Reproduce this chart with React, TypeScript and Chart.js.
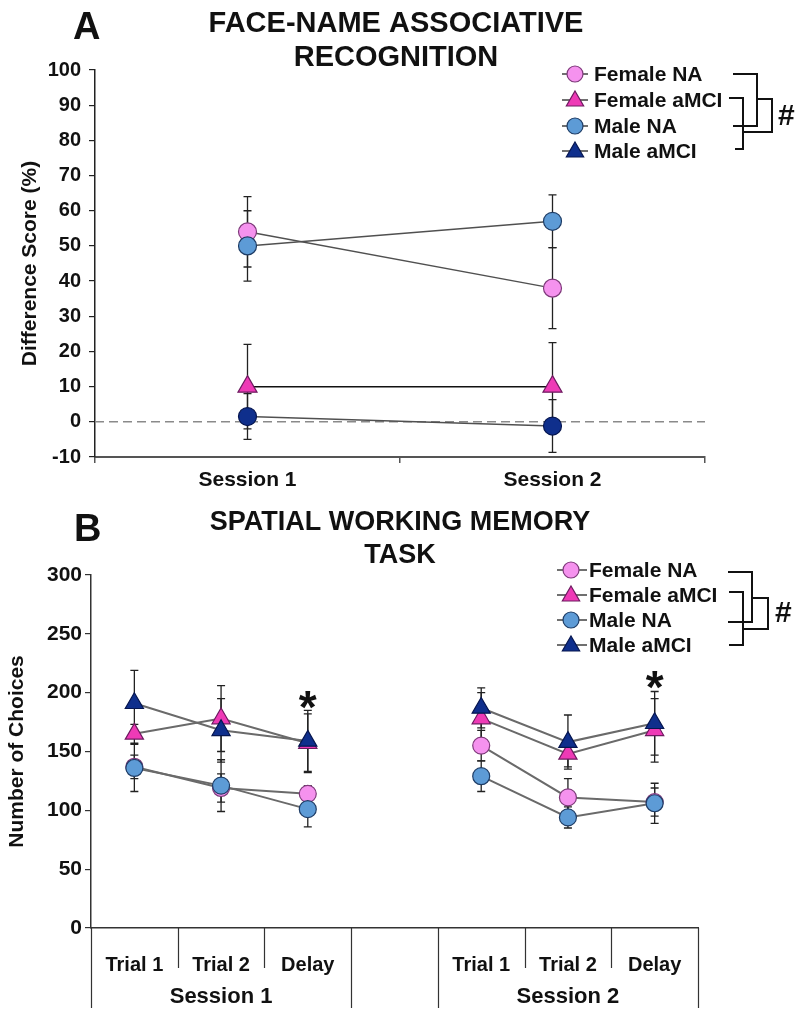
import React, { useEffect, useRef } from 'react';
import { Chart, registerables } from 'chart.js';

Chart.register(...registerables);

const FONT = '"Liberation Sans", Arial, Helvetica, sans-serif';

// ---------- Panel A data ----------
const seriesNames = ['Female NA', 'Female aMCI', 'Male NA', 'Male aMCI'];
const sessionsA = ['Session 1', 'Session 2'];
const yMinA = -10;
const yMaxA = 100;
const yStepA = 10;
const femaleNA_A = [54, 38];
const femaleNA_A_err = [10, 11.5];
const femaleMCI_A = [10, 10];
const femaleMCI_A_err = [12, 12.5];
const maleNA_A = [50, 57];
const maleNA_A_err = [10, 7.5];
const maleMCI_A = [1.5, -1.2];
const maleMCI_A_err = [6.5, 7.5];

// ---------- Panel B data ----------
const trialsB = ['Trial 1', 'Trial 2', 'Delay', '', 'Trial 1', 'Trial 2', 'Delay'];
const sessionsB = ['Session 1', 'Session 2'];
const sessionRangesB = [[0, 2], [4, 6]];
const yMinB = 0;
const yMaxB = 300;
const yStepB = 50;
const femaleNA_B = [137, 119, 114, null, 155, 111, 107];
const femaleNA_B_err = [10, 12, 7, null, 13, 16, 12];
const femaleMCI_B = [165, 178, 157, null, 178, 148, 168];
const femaleMCI_B_err = [8, 28, 25, null, 22, 11, 27];
const maleNA_B = [136, 121, 101, null, 129, 94, 106];
const maleNA_B_err = [20, 22, 15, null, 13, 9, 17];
const maleMCI_B = [191, 168, 159, null, 187, 158, 174];
const maleMCI_B_err = [28, 27, 26, null, 17, 23, 27];
const starsB = [null, null, 194, null, null, null, 211];

// ---------- styles ----------
const C = {
  fNA: { fill: '#F592EE', border: '#7E3A7A' },
  fMCI: { fill: '#EE3AB6', border: '#6E1A60' },
  mNA: { fill: '#5D9BD6', border: '#1F3D66' },
  mMCI: { fill: '#0F2F8C', border: '#061650' },
};

function drawMarker(ctx: CanvasRenderingContext2D, style: string, x: number, y: number, r: number, fill: string, stroke: string) {
  ctx.beginPath();
  if (style === 'circle') {
    ctx.arc(x, y, r, 0, Math.PI * 2);
  } else {
    const a1 = (2 * Math.PI) / 3;
    const a2 = (4 * Math.PI) / 3;
    ctx.moveTo(x, y - r);
    ctx.lineTo(x + r * Math.sin(a1), y - r * Math.cos(a1));
    ctx.lineTo(x + r * Math.sin(a2), y - r * Math.cos(a2));
    ctx.closePath();
  }
  ctx.fillStyle = fill;
  ctx.fill();
  ctx.lineWidth = 1.2;
  ctx.strokeStyle = stroke;
  ctx.stroke();
}

const errorBarPlugin = {
  id: 'errbars',
  beforeDatasetsDraw(chart: any, _args: any, o: any) {
    const { ctx } = chart;
    const ys = chart.scales.y;
    ctx.save();
    ctx.strokeStyle = o.color || '#222';
    ctx.lineWidth = o.width || 1.3;
    const cap = o.cap || 4;
    chart.data.datasets.forEach((ds: any, i: number) => {
      const meta = chart.getDatasetMeta(i);
      meta.data.forEach((pt: any, j: number) => {
        const v = ds.data[j];
        const e = ds.errors ? ds.errors[j] : null;
        if (v == null || e == null) return;
        const x = pt.x;
        const y1 = ys.getPixelForValue(v + e);
        const y2 = ys.getPixelForValue(v - e);
        ctx.beginPath();
        ctx.moveTo(x, y1);
        ctx.lineTo(x, y2);
        ctx.moveTo(x - cap, y1);
        ctx.lineTo(x + cap, y1);
        ctx.moveTo(x - cap, y2);
        ctx.lineTo(x + cap, y2);
        ctx.stroke();
      });
    });
    ctx.restore();
  },
};

const zeroLinePlugin = {
  id: 'zeroLine',
  beforeDatasetsDraw(chart: any, _a: any, o: any) {
    if (!o || !o.enabled) return;
    const { ctx, chartArea } = chart;
    const y = chart.scales.y.getPixelForValue(0);
    ctx.save();
    ctx.strokeStyle = '#8a8a8a';
    ctx.lineWidth = 1.4;
    ctx.setLineDash([9, 5]);
    ctx.beginPath();
    ctx.moveTo(chartArea.left, y);
    ctx.lineTo(chartArea.right, y);
    ctx.stroke();
    ctx.restore();
  },
};

const starPlugin = {
  id: 'stars',
  afterDatasetsDraw(chart: any, _a: any, o: any) {
    if (!o || !o.values) return;
    const { ctx } = chart;
    const xs = chart.scales.x;
    const ys = chart.scales.y;
    ctx.save();
    ctx.fillStyle = '#111';
    ctx.font = `bold 46px ${FONT}`;
    ctx.textAlign = 'center';
    ctx.textBaseline = 'alphabetic';
    const m = ctx.measureText('*');
    const mid = (m.actualBoundingBoxAscent - m.actualBoundingBoxDescent) / 2;
    o.values.forEach((v: number | null, j: number) => {
      if (v == null) return;
      ctx.fillText('*', xs.getPixelForValue(j), ys.getPixelForValue(v) + mid);
    });
    ctx.restore();
  },
};

const decorPlugin = {
  id: 'decor',
  afterDraw(chart: any, _a: any, o: any) {
    const { ctx } = chart;
    ctx.save();
    ctx.fillStyle = '#111';
    ctx.textBaseline = 'alphabetic';
    ctx.textAlign = 'left';
    ctx.font = `bold ${o.letterSize}px ${FONT}`;
    ctx.fillText(o.letter, o.letterX, o.letterY);
    ctx.textAlign = 'center';
    ctx.font = `bold ${o.titleSize}px ${FONT}`;
    o.titleLines.forEach((t: string, i: number) => ctx.fillText(t, o.titleX, o.titleYs[i]));

    // legend
    ctx.textAlign = 'left';
    ctx.textBaseline = 'middle';
    ctx.font = `bold ${o.legendSize}px ${FONT}`;
    o.names.forEach((name: string, i: number) => {
      const y = o.rowYs[i];
      const st = o.markers[i];
      ctx.strokeStyle = '#333';
      ctx.lineWidth = 1.4;
      ctx.beginPath();
      ctx.moveTo(o.lineX0, y);
      ctx.lineTo(o.lineX1, y);
      ctx.stroke();
      drawMarker(ctx, st.style, o.markerX, y + (st.style === 'triangle' ? 1 : 0), st.r, st.fill, st.border);
      ctx.fillStyle = '#111';
      ctx.fillText(name, o.textX, y + 1);
    });

    // brackets
    ctx.strokeStyle = '#111';
    ctx.lineWidth = 2;
    o.brackets.forEach((b: any) => {
      ctx.beginPath();
      ctx.moveTo(b.xa, b.ya);
      ctx.lineTo(b.xv, b.ya);
      ctx.lineTo(b.xv, b.yb);
      ctx.lineTo(b.xb, b.yb);
      ctx.stroke();
    });
    ctx.fillStyle = '#111';
    ctx.textAlign = 'left';
    ctx.textBaseline = 'middle';
    ctx.font = `bold 30px ${FONT}`;
    ctx.fillText('#', o.hashX, o.hashY);
    ctx.restore();
  },
};

const groupAxisPlugin = {
  id: 'groupAxis',
  afterDraw(chart: any, _a: any, o: any) {
    if (!o || !o.enabled) return;
    const { ctx } = chart;
    const xs = chart.scales.x;
    const n = xs.getLabels().length;
    const w = (xs.right - xs.left) / n;
    const y0 = xs.top;
    ctx.save();
    ctx.strokeStyle = '#333';
    ctx.lineWidth = 1.2;
    ctx.beginPath();
    for (let i = 0; i <= n; i++) {
      const x = Math.round(xs.left + i * w) + 0.5;
      const long = o.longIdx.includes(i);
      ctx.moveTo(x, y0);
      ctx.lineTo(x, y0 + (long ? o.longLen : o.shortLen));
    }
    ctx.stroke();
    ctx.fillStyle = '#111';
    ctx.textAlign = 'center';
    ctx.textBaseline = 'alphabetic';
    ctx.font = `bold 22px ${FONT}`;
    o.groups.forEach((label: string, k: number) => {
      const [a, b] = o.ranges[k];
      const x = (xs.getPixelForValue(a) + xs.getPixelForValue(b)) / 2;
      ctx.fillText(label, x, o.labelY);
    });
    ctx.restore();
  },
};

function ds(label: string, data: any[], errors: any[], c: any, style: string, radius: number, lineColor: string, lineWidth: number, order: number) {
  return {
    label,
    data,
    errors,
    borderColor: lineColor,
    borderWidth: lineWidth,
    pointStyle: style,
    pointRadius: radius,
    pointBackgroundColor: c.fill,
    pointBorderColor: c.border,
    pointBorderWidth: 1.2,
    fill: false,
    tension: 0,
    order,
    spanGaps: false,
  };
}

export default function App() {
  const refA = useRef<HTMLCanvasElement>(null);
  const refB = useRef<HTMLCanvasElement>(null);

  useEffect(() => {
    Chart.defaults.font.family = FONT;
    Chart.defaults.color = '#111';

    const tickFont = (size: number) => ({ size, weight: 'bold' as const, family: FONT });

    const chartA = new Chart(refA.current as HTMLCanvasElement, {
      type: 'line',
      data: {
        labels: sessionsA,
        datasets: [
          ds(seriesNames[0], femaleNA_A, femaleNA_A_err, C.fNA, 'circle', 9, '#505050', 1.5, 4),
          ds(seriesNames[1], femaleMCI_A, femaleMCI_A_err, C.fMCI, 'triangle', 11, '#111111', 1.5, 3),
          ds(seriesNames[2], maleNA_A, maleNA_A_err, C.mNA, 'circle', 9, '#505050', 1.5, 2),
          ds(seriesNames[3], maleMCI_A, maleMCI_A_err, C.mMCI, 'circle', 9, '#505050', 1.5, 1),
        ] as any,
      },
      options: {
        responsive: false,
        animation: false,
        devicePixelRatio: 1,
        events: [],
        layout: { padding: { top: 70, right: 91, left: 0, bottom: 0 } },
        plugins: {
          legend: { display: false },
          tooltip: { enabled: false },
          title: { display: false },
          errbars: { cap: 4, color: '#222', width: 1.3 },
          zeroLine: { enabled: true },
          decor: {
            letter: 'A', letterSize: 38, letterX: 73, letterY: 39,
            titleLines: ['FACE-NAME ASSOCIATIVE', 'RECOGNITION'], titleSize: 29, titleX: 396, titleYs: [32, 66],
            names: seriesNames, legendSize: 21, rowYs: [74, 100, 126, 151],
            lineX0: 562, lineX1: 588, markerX: 575, textX: 594,
            markers: [
              { style: 'circle', r: 8, ...C.fNA },
              { style: 'triangle', r: 10, ...C.fMCI },
              { style: 'circle', r: 8, ...C.mNA },
              { style: 'triangle', r: 10, ...C.mMCI },
            ],
            brackets: [
              { xa: 733, ya: 74, xv: 757, yb: 126, xb: 733 },
              { xa: 729, ya: 98, xv: 743, yb: 149, xb: 735 },
              { xa: 757, ya: 99, xv: 772, yb: 132, xb: 743 },
            ],
            hashX: 778, hashY: 117,
          },
        } as any,
        scales: {
          x: {
            type: 'category',
            offset: true,
            grid: { display: true, offset: true, drawOnChartArea: false, drawTicks: true, tickLength: 6, color: '#555', lineWidth: 1.5 },
            border: { display: true, color: '#555', width: 2 },
            ticks: { font: tickFont(21), color: '#111', padding: 5, maxRotation: 0, autoSkip: false },
            afterFit: (s: any) => { s.height = 43; },
          },
          y: {
            min: yMinA,
            max: yMaxA,
            ticks: { stepSize: yStepA, font: tickFont(20), color: '#111', padding: 8 },
            grid: { display: true, drawOnChartArea: false, drawTicks: true, tickLength: 6, color: '#222', lineWidth: 1.2 },
            border: { display: true, color: '#222', width: 1.5 },
            title: { display: true, text: 'Difference Score (%)', font: tickFont(21), color: '#111', padding: { top: 18, bottom: 0 } },
            afterFit: (s: any) => { s.width = 95; },
          },
        },
      } as any,
      plugins: [errorBarPlugin, zeroLinePlugin, decorPlugin] as any,
    });

    const chartB = new Chart(refB.current as HTMLCanvasElement, {
      type: 'line',
      data: {
        labels: trialsB,
        datasets: [
          ds(seriesNames[0], femaleNA_B, femaleNA_B_err, C.fNA, 'circle', 8.5, '#6a6a6a', 2, 4),
          ds(seriesNames[1], femaleMCI_B, femaleMCI_B_err, C.fMCI, 'triangle', 10.5, '#6a6a6a', 2, 3),
          ds(seriesNames[2], maleNA_B, maleNA_B_err, C.mNA, 'circle', 8.5, '#6a6a6a', 2, 2),
          ds(seriesNames[3], maleMCI_B, maleMCI_B_err, C.mMCI, 'triangle', 10.5, '#6a6a6a', 2, 1),
        ] as any,
      },
      options: {
        responsive: false,
        animation: false,
        devicePixelRatio: 1,
        events: [],
        layout: { padding: { top: 75, right: 98, left: 0, bottom: 0 } },
        plugins: {
          legend: { display: false },
          tooltip: { enabled: false },
          title: { display: false },
          errbars: { cap: 4, color: '#222', width: 1.3 },
          stars: { values: starsB },
          groupAxis: {
            enabled: true, longIdx: [0, 3, 4, 7], shortLen: 40, longLen: 80,
            groups: sessionsB, ranges: sessionRangesB, labelY: 503,
          },
          decor: {
            letter: 'B', letterSize: 38, letterX: 74, letterY: 41,
            titleLines: ['SPATIAL WORKING MEMORY', 'TASK'], titleSize: 27, titleX: 400, titleYs: [30, 63],
            names: seriesNames, legendSize: 21, rowYs: [70, 95, 120, 145],
            lineX0: 557, lineX1: 587, markerX: 571, textX: 589,
            markers: [
              { style: 'circle', r: 8, ...C.fNA },
              { style: 'triangle', r: 10, ...C.fMCI },
              { style: 'circle', r: 8, ...C.mNA },
              { style: 'triangle', r: 10, ...C.mMCI },
            ],
            brackets: [
              { xa: 728, ya: 72, xv: 752, yb: 122, xb: 728 },
              { xa: 729, ya: 92, xv: 743, yb: 145, xb: 729 },
              { xa: 752, ya: 98, xv: 768, yb: 129, xb: 743 },
            ],
            hashX: 775, hashY: 114,
          },
        } as any,
        scales: {
          x: {
            type: 'category',
            offset: true,
            grid: { display: false },
            border: { display: true, color: '#333', width: 1.5 },
            ticks: { font: tickFont(20), color: '#111', padding: 17, maxRotation: 0, autoSkip: false },
            afterFit: (s: any) => { s.height = 83; },
          },
          y: {
            min: yMinB,
            max: yMaxB,
            ticks: { stepSize: yStepB, font: tickFont(21), color: '#111', padding: 3 },
            grid: { display: true, drawOnChartArea: false, drawTicks: true, tickLength: 6, color: '#333', lineWidth: 1.2 },
            border: { display: true, color: '#333', width: 1.5 },
            title: { display: true, text: 'Number of Choices', font: tickFont(21), color: '#111', padding: { top: 5, bottom: 0 } },
            afterFit: (s: any) => { s.width = 91; },
          },
        },
      } as any,
      plugins: [errorBarPlugin, starPlugin, groupAxisPlugin, decorPlugin] as any,
    });

    return () => {
      chartA.destroy();
      chartB.destroy();
    };
  }, []);

  return (
    <div style={{ position: 'absolute', left: 0, top: 0, width: 796, height: 1011, background: '#fff' }}>
      <canvas ref={refA} width={796} height={500} style={{ position: 'absolute', left: 0, top: 0, width: 796, height: 500 }} />
      <canvas ref={refB} width={796} height={511} style={{ position: 'absolute', left: 0, top: 500, width: 796, height: 511 }} />
    </div>
  );
}
